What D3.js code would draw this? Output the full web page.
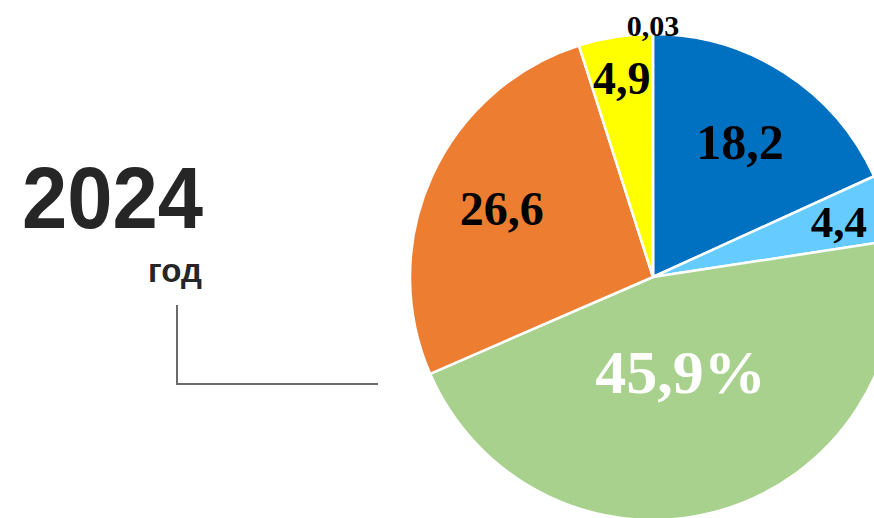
<!DOCTYPE html>
<html>
<head>
<meta charset="utf-8">
<script src="https://cdn.jsdelivr.net/npm/d3@7"></script>
<style>
  html, body { margin: 0; padding: 0; background: #fff; }
  svg { display: block; }
</style>
</head>
<body>
<svg id="chart"></svg>
<script>
const W = 874, H = 518;

// data
const shares = [18.2, 4.4, 45.9, 26.6, 4.9, 0.03];
const labels = ["18,2", "4,4", "45,9%", "26,6", "4,9", "0,03"];
const colors = ["#0070C0", "#66CCFF", "#A9D18E", "#ED7D31", "#FFFF00", "#A5A5A5"];
const yearText = "2024";
const unitText = "год";

// label look per slice (radius from centre, font size, colour)
const labelRadius = [161, 194, 99, 166, 201, 251];
const labelSize = [50, 45, 62, 48, 46, 30];
const labelColor = ["#000", "#000", "#fff", "#000", "#000", "#000"];

const cx = 653, cy = 277, R = 243;

const svg = d3.select("#chart")
    .attr("width", W)
    .attr("height", H);

const pie = d3.pie()
    .sort(null)
    .value(d => d);

const arcs = pie(shares);

const arc = d3.arc()
    .innerRadius(0)
    .outerRadius(R);

const g = svg.append("g")
    .attr("transform", `translate(${cx},${cy})`);

g.selectAll("path")
    .data(arcs)
    .enter()
    .append("path")
    .attr("d", arc)
    .attr("fill", (d, i) => colors[i])
    .attr("stroke", "#fff")
    .attr("stroke-width", 2.5)
    .attr("stroke-linejoin", "round");

g.selectAll("text.lbl")
    .data(arcs)
    .enter()
    .append("text")
    .attr("class", "lbl")
    .attr("transform", (d, i) => {
        const a = d3.arc().innerRadius(labelRadius[i]).outerRadius(labelRadius[i]);
        const [x, y] = a.centroid(i === arcs.length - 1 ? { startAngle: 0, endAngle: 0 } : d);
        return `translate(${x},${y})`;
    })
    .attr("text-anchor", "middle")
    .attr("dy", "0.34em")
    .style("font-family", "'Liberation Serif', 'Times New Roman', serif")
    .style("font-weight", "bold")
    .style("font-size", (d, i) => labelSize[i] + "px")
    .attr("fill", (d, i) => labelColor[i])
    .text((d, i) => labels[i]);

// year caption on the left
svg.append("text")
    .attr("x", 22)
    .attr("y", 228)
    .attr("textLength", 181)
    .attr("lengthAdjust", "spacingAndGlyphs")
    .style("font-family", "'Liberation Sans', Arial, sans-serif")
    .style("font-weight", "bold")
    .style("font-size", "88px")
    .attr("fill", "#262626")
    .text(yearText);

svg.append("text")
    .attr("x", 148)
    .attr("y", 282)
    .style("font-family", "'Liberation Sans', Arial, sans-serif")
    .style("font-weight", "bold")
    .style("font-size", "33px")
    .attr("fill", "#262626")
    .text(unitText);

// connector line
svg.append("path")
    .attr("d", d3.line()([[177, 305], [177, 384], [378, 384]]))
    .attr("fill", "none")
    .attr("stroke", "#6b6b6b")
    .attr("stroke-width", 2);
</script>
</body>
</html>
